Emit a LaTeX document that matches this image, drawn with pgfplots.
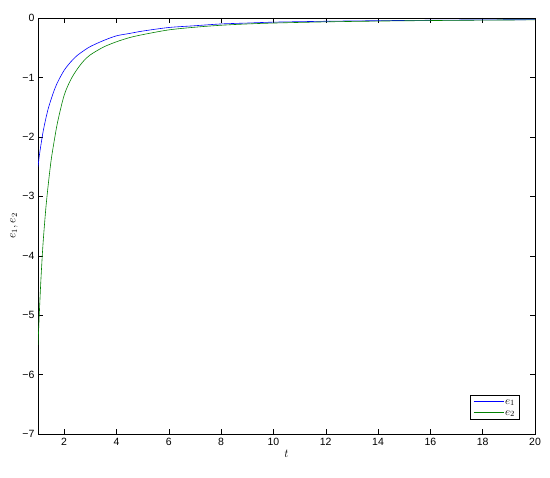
\documentclass[border=0pt]{standalone}
\usepackage{pgfplots}
\pgfplotsset{compat=1.18}
\usepackage{fontspec}
\setmainfont{Liberation Sans}
\definecolor{mblue}{rgb}{0,0,1}
\definecolor{mgreen}{rgb}{0,0.5,0}
\begin{document}
\begin{tikzpicture}
\begin{axis}[
  name=ax,
  scale only axis,
  width=497pt, height=416pt,
  xmin=1, xmax=20, ymin=-7, ymax=0,
  xtick={2,4,...,20}, ytick={-7,-6,...,0},
  yticklabels={−7,−6,−5,−4,−3,−2,−1,0},
  tick align=inside,
  major tick length=5pt,
  tick style={black, line width=0.4pt},
  axis line style={black, line width=0.5pt},
  ticklabel style={font=\fontsize{10.5}{12}\selectfont},
  xticklabel style={yshift=-1pt},
  /pgf/number format/assume math mode=true,
  xlabel={$t$}, ylabel={$e_1, e_2$},
  label style={font=\fontsize{12}{14}\selectfont},
  xlabel style={yshift=3pt},
  ylabel style={yshift=-2pt},
  legend pos=south east,
  legend style={font=\fontsize{11}{12}\selectfont, draw=black, line width=0.4pt,
    inner xsep=3pt, inner ysep=1pt, row sep=0pt, xshift=-1pt, yshift=2pt,
    nodes={text height=7pt, text depth=2pt, inner sep=1pt},
    legend cell align=left},
  legend image code/.code={\draw[#1, line width=0.8pt] (0pt,0pt) -- (30pt,0pt);},
  clip=true,
]
\addplot[draw=mblue, color=mblue, line width=0.6pt, smooth] coordinates {
(1,-2.5) (1.05,-2.32) (1.1,-2.17) (1.15,-2.03) (1.2,-1.9) (1.3,-1.69) (1.4,-1.51)
(1.5,-1.37) (1.6,-1.24) (1.75,-1.08) (2,-0.88) (2.25,-0.74) (2.5,-0.63) (2.75,-0.55)
(3,-0.48) (3.5,-0.38) (4,-0.30) (4.5,-0.26) (5,-0.22) (6,-0.16) (7,-0.13) (8,-0.10)
(9,-0.085) (10,-0.07) (12,-0.055) (14,-0.045) (16,-0.038) (18,-0.032) (20,-0.028)
};
\addlegendentry{$e_1$}
\addplot[draw=mgreen, color=mgreen, line width=0.6pt, smooth] coordinates {
(1,-5.5) (1.05,-4.98) (1.1,-4.5) (1.15,-4.1) (1.2,-3.75) (1.3,-3.2) (1.4,-2.77)
(1.5,-2.4) (1.6,-2.12) (1.75,-1.75) (2,-1.3) (2.25,-1.04) (2.5,-0.86) (2.75,-0.72)
(3,-0.62) (3.5,-0.49) (4,-0.40) (4.5,-0.33) (5,-0.28) (6,-0.20) (7,-0.155) (8,-0.122)
(9,-0.10) (10,-0.085) (12,-0.065) (14,-0.052) (16,-0.043) (18,-0.036) (20,-0.031)
};
\addlegendentry{$e_2$}
\end{axis}
\useasboundingbox ([xshift=-38pt,yshift=-43pt]ax.south west) rectangle ([xshift=15pt,yshift=18pt]ax.north east);
\end{tikzpicture}
\end{document}
